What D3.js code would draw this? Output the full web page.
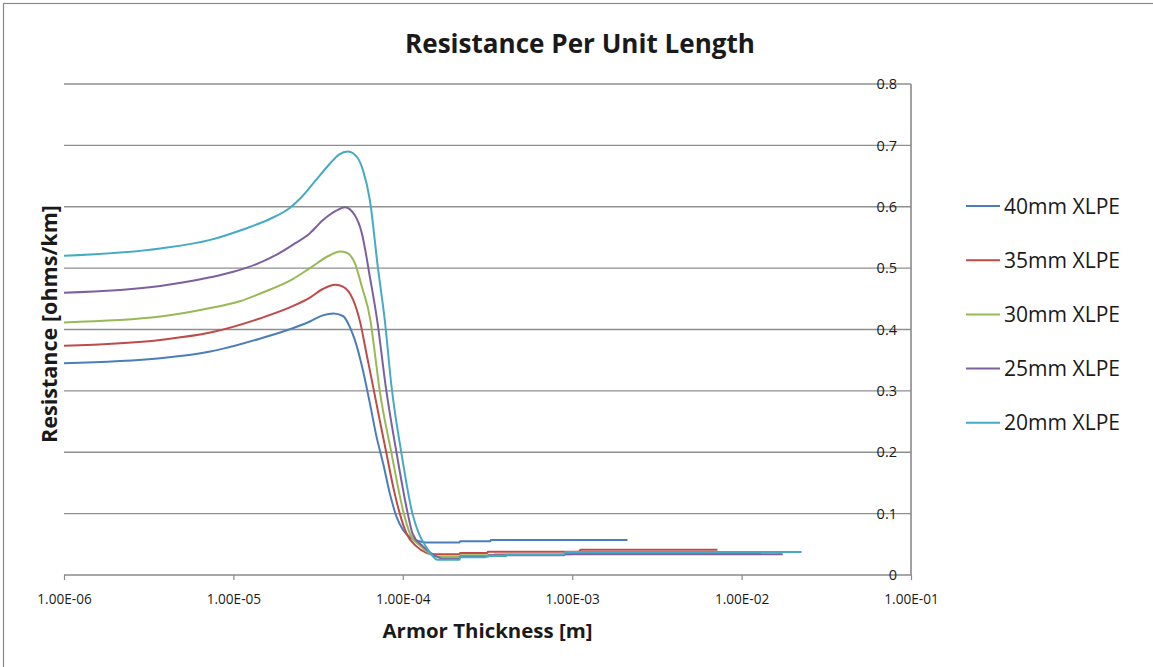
<!DOCTYPE html>
<html>
<head>
<meta charset="utf-8">
<script src="https://cdn.jsdelivr.net/npm/d3@7"></script>
<style>
  html, body { margin: 0; padding: 0; background: #fff; }
  svg { display: block; }
  text { font-family: "Open Sans", "Noto Sans", sans-serif; fill: #1a1a1a; }
</style>
</head>
<body>
<svg id="chart" width="1153" height="667"></svg>
<script>
// ---------------- DATA ----------------
const chartTitle = "Resistance Per Unit Length";
const xTitle = "Armor Thickness [m]";
const yTitle = "Resistance [ohms/km]";

const seriesNames = ["40mm XLPE", "35mm XLPE", "30mm XLPE", "25mm XLPE", "20mm XLPE"];
const seriesColors = ["#4A7EBB", "#BE4B48", "#98B954", "#7D60A0", "#46AAC5"];

const xTickValues = [1e-6, 1e-5, 1e-4, 1e-3, 1e-2, 1e-1];
const xTickLabels = ["1.00E-06", "1.00E-05", "1.00E-04", "1.00E-03", "1.00E-02", "1.00E-01"];
const yTickValues = [0, 0.1, 0.2, 0.3, 0.4, 0.5, 0.6, 0.7, 0.8];
const yTickLabels = ["0", "0.1", "0.2", "0.3", "0.4", "0.5", "0.6", "0.7", "0.8"];

// [armor thickness (m), resistance (ohms/km)]
const s40 = [
  [1e-6,0.345],[3.7e-6,0.353],[7.3e-6,0.364],[1.43e-5,0.385],[2.24e-5,0.402],[2.83e-5,0.413],
  [3.37e-5,0.423],[3.9e-5,0.426],[4.43e-5,0.422],[4.87e-5,0.404],[5.21e-5,0.383],[5.81e-5,0.334],
  [6.39e-5,0.28],[7.0e-5,0.225],[7.65e-5,0.182],[8.38e-5,0.133],[9.18e-5,0.095],[1.005e-4,0.073],
  [1.125e-4,0.060],[1.29e-4,0.054],[1.36e-4,0.053],[2.16e-4,0.053],[2.18e-4,0.055],[3.28e-4,0.055],
  [3.31e-4,0.057],[2.12e-3,0.057]
];
const s35 = [
  [1e-6,0.3735],[3.7e-6,0.383],[7.3e-6,0.395],[1.43e-5,0.418],[2.24e-5,0.438],[2.83e-5,0.452],
  [3.37e-5,0.466],[4.0e-5,0.473],[4.43e-5,0.470],[5.08e-5,0.449],[5.6e-5,0.412],[6.1e-5,0.361],
  [6.68e-5,0.307],[7.31e-5,0.252],[8.01e-5,0.198],[8.77e-5,0.144],[9.6e-5,0.1],[1.05e-4,0.068],
  [1.2e-4,0.047],[1.38e-4,0.036],[1.46e-4,0.034],[2.16e-4,0.034],[2.18e-4,0.036],[3.15e-4,0.036],
  [3.18e-4,0.038],[1.10e-3,0.038],[1.12e-3,0.041],[7.2e-3,0.041]
];
const s30 = [
  [1e-6,0.4115],[3.7e-6,0.421],[7.3e-6,0.435],[1.09e-5,0.446],[1.45e-5,0.459],[2.24e-5,0.482],
  [2.83e-5,0.500],[3.71e-5,0.521],[4.25e-5,0.527],[4.67e-5,0.525],[5.21e-5,0.508],[5.73e-5,0.47],
  [6.44e-5,0.415],[6.85e-5,0.36],[7.25e-5,0.307],[8.58e-5,0.198],[1.014e-4,0.1],[1.1e-4,0.068],
  [1.27e-4,0.047],[1.44e-4,0.035],[1.6e-4,0.030],[2.16e-4,0.030],[2.19e-4,0.032],[3.45e-4,0.032],
  [3.5e-4,0.034],[1.0e-3,0.034],[1.02e-3,0.035],[1.3e-2,0.035]
];
const s25 = [
  [1e-6,0.460],[3.7e-6,0.471],[7.3e-6,0.485],[1.0e-5,0.494],[1.38e-5,0.507],[1.8e-5,0.522],
  [2.24e-5,0.538],[2.83e-5,0.557],[3.37e-5,0.578],[4.08e-5,0.594],[4.55e-5,0.599],[5.21e-5,0.586],
  [5.73e-5,0.557],[6.39e-5,0.486],[7.06e-5,0.415],[7.93e-5,0.307],[9.2e-5,0.198],[1.07e-4,0.1],
  [1.14e-4,0.068],[1.31e-4,0.047],[1.48e-4,0.035],[1.65e-4,0.028],[1.72e-4,0.027],[2.16e-4,0.027],
  [2.19e-4,0.030],[3.18e-4,0.030],[3.22e-4,0.032],[8.9e-4,0.032],[9.1e-4,0.034],[1.75e-2,0.034]
];
const s20 = [
  [1e-6,0.520],[3.7e-6,0.532],[7.3e-6,0.546],[1.14e-5,0.563],[1.64e-5,0.580],[2.15e-5,0.598],
  [2.47e-5,0.613],[3.0e-5,0.640],[3.71e-5,0.670],[4.2e-5,0.685],[4.74e-5,0.690],[5.43e-5,0.679],
  [5.81e-5,0.66],[6.39e-5,0.611],[7.12e-5,0.502],[7.83e-5,0.415],[8.58e-5,0.307],[9.82e-5,0.198],
  [1.14e-4,0.1],[1.25e-4,0.066],[1.38e-4,0.045],[1.5e-4,0.031],[1.6e-4,0.025],[2.16e-4,0.025],
  [2.19e-4,0.029],[3.08e-4,0.029],[3.12e-4,0.031],[4.08e-4,0.031],[4.12e-4,0.033],[8.9e-4,0.033],
  [9.1e-4,0.0375],[2.26e-2,0.0375]
];
const seriesData = [s40, s35, s30, s25, s20];

// ---------------- CHART ----------------
const svg = d3.select("#chart");
const W = 1153, H = 667;
const plot = { left: 64, right: 911, top: 84, bottom: 575 };

const x = d3.scaleLog().domain([1e-6, 1e-1]).range([plot.left, plot.right]);
const y = d3.scaleLinear().domain([0, 0.8]).range([plot.bottom, plot.top]);

// helper: scale font-size so text fits a target width
function fitWidth(sel, target) {
  const node = sel.node();
  const fs = parseFloat(sel.attr("font-size"));
  const w = node.getComputedTextLength();
  if (w > 0) sel.attr("font-size", (fs * target / w).toFixed(2));
}

// outer border
svg.append("rect")
  .attr("x", 3.5).attr("y", 3.5)
  .attr("width", W + 20).attr("height", H + 20)
  .attr("fill", "none").attr("stroke", "#8a8a8a").attr("stroke-width", 1.2);

// gridlines
svg.append("g")
  .selectAll("line")
  .data(yTickValues.filter(v => v > 0))
  .join("line")
  .attr("x1", plot.left).attr("x2", plot.right)
  .attr("y1", d => y(d)).attr("y2", d => y(d))
  .attr("stroke", "#8f8f8f").attr("stroke-width", 1.4);

// x axis
const xAxis = d3.axisBottom(x)
  .tickValues(xTickValues)
  .tickFormat((d, i) => xTickLabels[i])
  .tickSize(5)
  .tickPadding(14);
const gx = svg.append("g")
  .attr("transform", `translate(0,${plot.bottom})`)
  .call(xAxis);
gx.select(".domain").attr("stroke", "#8a8a8a").attr("stroke-width", 1.6)
  .attr("d", `M${plot.left},0H${plot.right}`);
gx.selectAll(".tick line").attr("stroke", "#8a8a8a").attr("stroke-width", 1.2);
gx.selectAll(".tick text")
  .attr("font-family", "'Open Sans', sans-serif")
  .attr("font-size", 13.6)
  .attr("fill", "#1a1a1a");

// y axis (line at right edge, labels inside)
const yAxis = d3.axisLeft(y)
  .tickValues(yTickValues)
  .tickFormat((d, i) => yTickLabels[i])
  .tickSize(0)
  .tickPadding(14);
const gy = svg.append("g")
  .attr("transform", `translate(${plot.right},0)`)
  .call(yAxis);
gy.select(".domain").attr("stroke", "#8a8a8a").attr("stroke-width", 1.6)
  .attr("d", `M0,${plot.top}V${plot.bottom}`);
gy.selectAll(".tick text")
  .attr("font-family", "'Open Sans', sans-serif")
  .attr("font-size", 14.5)
  .attr("fill", "#1a1a1a");

// series lines
const line = d3.line()
  .x(d => x(d[0]))
  .y(d => y(d[1]))
  .curve(d3.curveMonotoneX);

svg.append("g")
  .selectAll("path")
  .data(seriesData)
  .join("path")
  .attr("d", line)
  .attr("fill", "none")
  .attr("stroke", (d, i) => seriesColors[i])
  .attr("stroke-width", 2)
  .attr("stroke-linejoin", "round");

// title
const t = svg.append("text")
  .attr("x", 580).attr("y", 53)
  .attr("text-anchor", "middle")
  .attr("font-size", 24).attr("font-weight", 700)
  .text(chartTitle);
fitWidth(t, 350);

// x title
const xt = svg.append("text")
  .attr("x", (plot.left + plot.right) / 2).attr("y", 638)
  .attr("text-anchor", "middle")
  .attr("font-size", 18).attr("font-weight", 700)
  .text(xTitle);
fitWidth(xt, 210);

// y title
const yt = svg.append("text")
  .attr("transform", `translate(57,${324}) rotate(-90)`)
  .attr("text-anchor", "middle")
  .attr("font-size", 18).attr("font-weight", 700)
  .text(yTitle);
fitWidth(yt, 238);

// legend
const legend = svg.append("g");
const legendY0 = 206, legendStep = 54.2;
seriesNames.forEach((name, i) => {
  const ly = legendY0 + i * legendStep;
  legend.append("line")
    .attr("x1", 966).attr("x2", 1000)
    .attr("y1", ly).attr("y2", ly)
    .attr("stroke", seriesColors[i]).attr("stroke-width", 2);
  const lt = legend.append("text")
    .attr("x", 1004).attr("y", ly)
    .attr("dy", "0.36em")
    .attr("font-size", 17)
    .text(name);
  fitWidth(lt, 116);
});
</script>
</body>
</html>
